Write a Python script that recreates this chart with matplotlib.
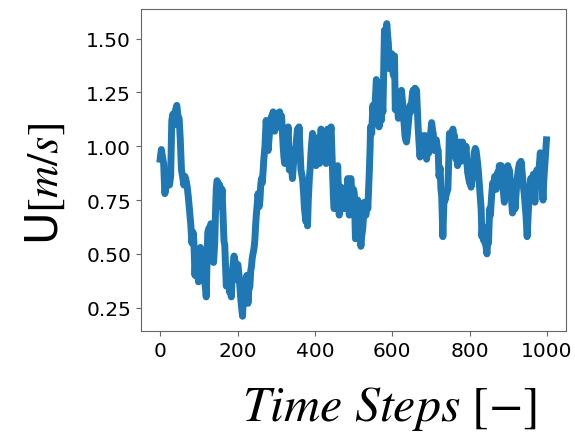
import matplotlib
matplotlib.use("Agg")
import matplotlib.pyplot as plt

# values (time step, velocity)
t_steps = [0, 3, 6, 9, 12, 16, 20, 24, 27, 30, 33, 36, 40, 43, 46, 49, 52, 55, 58, 61,
           64, 67, 70, 73, 76, 79, 82, 85, 87, 90, 93, 96, 99, 102, 104, 107, 110, 112, 115, 118,
           119, 121, 123, 126, 129, 131, 134, 136, 138, 141, 143, 145, 147, 150, 152, 154, 156, 158, 160, 163,
           165, 167, 169, 171, 174, 176, 178, 180, 182, 184, 186, 188, 191, 193, 195, 197, 199, 201, 204, 206,
           208, 210, 213, 215, 217, 220, 222, 224, 227, 229, 232, 234, 236, 238, 240, 243, 245, 247, 249, 251,
           253, 256, 258, 260, 262, 264, 266, 268, 271, 274, 276, 279, 282, 284, 286, 288, 290, 292, 294, 296,
           298, 301, 303, 305, 307, 309, 312, 314, 316, 318, 320, 322, 325, 327, 329, 331, 334, 338, 342, 345,
           347, 351, 353, 355, 357, 359, 362, 364, 368, 371, 373, 377, 379, 381, 383, 386, 388, 390, 392, 394,
           397, 399, 401, 403, 405, 407, 410, 412, 414, 416, 418, 420, 423, 425, 427, 429, 431, 433, 435, 437,
           439, 442, 444, 446, 448, 450, 452, 455, 457, 459, 461, 463, 466, 468, 470, 472, 474, 476, 478, 481,
           483, 485, 487, 489, 491, 493, 495, 497, 500, 502, 505, 507, 509, 511, 513, 515, 517, 519, 521, 524,
           526, 528, 530, 532, 535, 537, 539, 541, 543, 544, 547, 550, 552, 554, 556, 559, 561, 563, 566, 569,
           572, 574, 576, 578, 580, 583, 586, 588, 590, 593, 596, 599, 601, 603, 606, 608, 611, 613, 616, 618,
           620, 622, 624, 627, 629, 631, 633, 635, 637, 639, 641, 644, 646, 648, 650, 652, 654, 657, 659, 661,
           663, 665, 667, 670, 672, 674, 676, 678, 680, 683, 685, 687, 689, 691, 693, 695, 697, 700, 702, 704,
           706, 708, 710, 712, 714, 717, 719, 721, 724, 726, 728, 730, 731, 733, 735, 737, 739, 742, 744, 746,
           748, 750, 752, 755, 757, 759, 761, 763, 765, 767, 769, 772, 774, 776, 778, 780, 782, 785, 787, 789,
           791, 793, 795, 798, 800, 802, 804, 806, 808, 810, 812, 815, 817, 819, 821, 823, 825, 828, 830, 832,
           834, 837, 839, 841, 843, 845, 847, 849, 852, 854, 856, 858, 860, 863, 865, 867, 869, 871, 873, 875,
           877, 880, 882, 884, 886, 888, 890, 892, 894, 897, 899, 901, 903, 905, 907, 909, 911, 914, 916, 918,
           920, 922, 924, 926, 929, 931, 933, 935, 937, 940, 942, 944, 946, 949, 951, 954, 956, 958, 960, 963,
           965, 967, 969, 971, 974, 976, 978, 980, 983, 985, 987, 990, 992, 995, 997, 999]

u_vals = [0.94, 0.985, 0.95, 0.92, 0.78, 0.82, 0.84, 0.82, 0.86, 1.12, 1.15, 1.10, 1.17, 1.19, 1.14, 1.13, 1.03, 0.89, 0.86, 0.82,
          0.86, 0.84, 0.81, 0.76, 0.70, 0.64, 0.55, 0.60, 0.56, 0.40, 0.52, 0.44, 0.37, 0.50, 0.53, 0.45, 0.44, 0.40, 0.37, 0.33,
          0.30, 0.45, 0.60, 0.62, 0.60, 0.64, 0.53, 0.60, 0.46, 0.55, 0.69, 0.80, 0.84, 0.83, 0.79, 0.82, 0.72, 0.74, 0.80, 0.66,
          0.56, 0.54, 0.45, 0.35, 0.41, 0.40, 0.36, 0.32, 0.40, 0.30, 0.40, 0.44, 0.49, 0.47, 0.40, 0.38, 0.45, 0.45, 0.40, 0.35,
          0.30, 0.26, 0.21, 0.30, 0.35, 0.38, 0.36, 0.40, 0.27, 0.33, 0.35, 0.42, 0.44, 0.48, 0.50, 0.53, 0.57, 0.64, 0.69, 0.73,
          0.78, 0.72, 0.75, 0.82, 0.85, 0.83, 0.88, 0.94, 1.00, 1.12, 1.08, 0.98, 1.05, 1.09, 1.12, 1.14, 1.10, 1.16, 1.12, 1.07,
          1.14, 1.15, 1.10, 1.09, 1.14, 1.16, 1.12, 1.14, 1.07, 1.00, 0.95, 0.92, 0.97, 1.00, 1.05, 1.09, 0.89, 0.95, 0.85, 0.93,
          0.98, 1.00, 1.04, 1.08, 1.02, 1.09, 0.97, 0.89, 0.85, 0.78, 0.71, 0.65, 0.70, 0.63, 0.75, 0.86, 0.90, 0.97, 1.02, 1.06,
          0.95, 1.02, 0.96, 0.91, 0.98, 1.04, 0.96, 0.92, 1.00, 1.08, 1.03, 0.98, 1.04, 1.06, 0.98, 0.92, 1.00, 1.08, 1.05, 1.02,
          1.05, 1.09, 0.98, 0.86, 0.76, 0.71, 0.80, 0.89, 0.78, 0.91, 0.80, 0.68, 0.75, 0.81, 0.76, 0.79, 0.74, 0.71, 0.79, 0.79,
          0.75, 0.85, 0.80, 0.68, 0.78, 0.85, 0.80, 0.74, 0.80, 0.78, 0.57, 0.65, 0.70, 0.75, 0.66, 0.58, 0.60, 0.535, 0.58, 0.62,
          0.68, 0.74, 0.70, 0.68, 0.74, 0.71, 0.80, 0.89, 1.00, 1.09, 1.06, 1.19, 1.15, 1.13, 1.20, 1.31, 1.25, 1.19, 1.09, 1.17,
          1.12, 1.20, 1.16, 1.35, 1.54, 1.50, 1.57, 1.52, 1.48, 1.36, 1.40, 1.43, 1.37, 1.33, 1.42, 1.17, 1.23, 1.20, 1.13, 1.18,
          1.25, 1.22, 1.26, 1.20, 1.14, 1.10, 1.05, 1.03, 1.02, 1.05, 1.09, 1.15, 1.19, 1.16, 1.20, 1.24, 1.26, 1.22, 1.27, 1.24,
          1.26, 1.18, 1.09, 1.00, 0.95, 1.00, 1.05, 0.99, 1.02, 0.98, 1.05, 1.00, 0.94, 0.99, 1.03, 0.97, 1.02, 1.07, 1.11, 1.08,
          1.06, 1.02, 0.98, 1.01, 1.03, 0.99, 0.98, 0.86, 0.90, 0.80, 0.77, 0.65, 0.58, 0.70, 0.79, 0.75, 0.77, 0.79, 0.80, 0.92,
          1.06, 1.02, 1.05, 1.03, 1.08, 1.01, 1.05, 0.98, 0.94, 0.99, 0.91, 0.97, 1.02, 0.96, 0.93, 0.99, 1.02, 0.97, 0.94, 0.98,
          1.00, 0.93, 0.88, 0.85, 0.83, 0.86, 0.81, 0.84, 0.86, 0.92, 0.97, 0.99, 0.98, 0.95, 0.92, 0.88, 0.83, 0.76, 0.71, 0.58,
          0.63, 0.56, 0.60, 0.55, 0.53, 0.50, 0.56, 0.55, 0.71, 0.68, 0.74, 0.79, 0.83, 0.80, 0.86, 0.84, 0.80, 0.85, 0.88, 0.84,
          0.91, 0.87, 0.91, 0.88, 0.83, 0.78, 0.74, 0.80, 0.89, 0.86, 0.91, 0.87, 0.89, 0.85, 0.80, 0.74, 0.69, 0.72, 0.74, 0.71,
          0.77, 0.82, 0.86, 0.89, 0.92, 0.88, 0.93, 0.90, 0.86, 0.80, 0.77, 0.72, 0.68, 0.58, 0.66, 0.77, 0.80, 0.85, 0.82, 0.83,
          0.87, 0.80, 0.74, 0.82, 0.89, 0.86, 0.83, 0.90, 0.97, 0.92, 0.85, 0.75, 0.84, 0.92, 0.98, 1.03]

plt.rcParams['mathtext.fontset'] = 'stix'

fig = plt.figure(figsize=(5.75, 4.35), dpi=100)
ax = fig.add_axes([0.245, 0.237, 0.739, 0.740])
ax.plot(t_steps, u_vals, color='#1f77b4', linewidth=5)

ax.set_yticks([0.25, 0.50, 0.75, 1.00, 1.25, 1.50])
ax.set_xticks([0, 200, 400, 600, 800, 1000])
ax.tick_params(labelsize=14.5, color='0.4')
for s in ax.spines.values():
    s.set_color('0.4')

ax.set_ylabel('U$[m/s]$', fontsize=32)
ax.set_xlabel(r'$Time\ Steps\ [-]$', fontsize=36)
ax.xaxis.set_label_coords(0.586, -0.165)
ax.yaxis.set_label_coords(-0.175, 0.46)

fig.savefig('out.png', dpi=100)
